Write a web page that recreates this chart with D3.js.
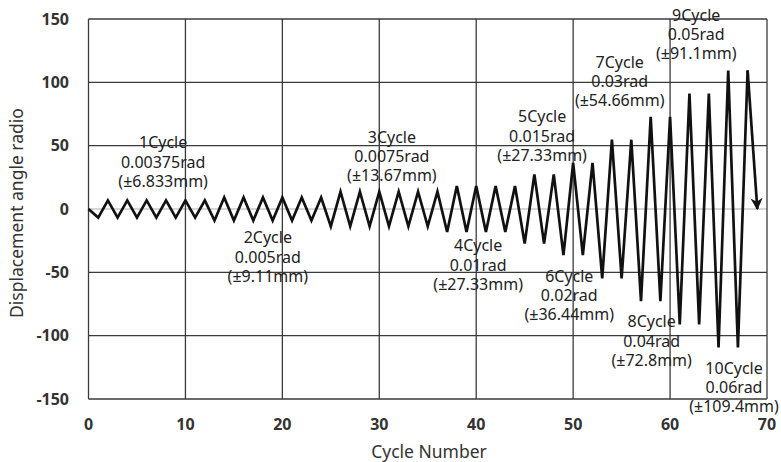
<!DOCTYPE html>
<html>
<head>
<meta charset="utf-8">
<script src="https://cdn.jsdelivr.net/npm/d3@7"></script>
<style>
  body { margin: 0; background: #fff; }
  svg { display: block; font-family: "Noto Sans", sans-serif; }
</style>
</head>
<body>
<svg></svg>
<script>
var width = 781;
var height = 462;

// loading protocol groups
var groupNames = ["1Cycle", "2Cycle", "3Cycle", "4Cycle", "5Cycle", "6Cycle", "7Cycle", "8Cycle", "9Cycle", "10Cycle"];
var groupRad = ["0.00375rad", "0.005rad", "0.0075rad", "0.01rad", "0.015rad", "0.02rad", "0.03rad", "0.04rad", "0.05rad", "0.06rad"];
var groupMm = ["(±6.833mm)", "(±9.11mm)", "(±13.67mm)", "(±27.33mm)", "(±27.33mm)", "(±36.44mm)", "(±54.66mm)", "(±72.8mm)", "(±91.1mm)", "(±109.4mm)"];
// label anchor: cycle number (x) and value (y) of the first line baseline
var labelX = [7.7, 18.5, 31.3, 40.2, 46.8, 49.6, 54.8, 58.1, 62.7, 66.6];
var labelY = [47.8, -27.2, 52.5, -33.4, 68.3, -57.4, 111.7, -93.5, 148.8, -129.9];

// peak amplitude of each of the 34 cycles
var amplitudes = [
  6.8, 6.8, 6.8, 6.8, 6.8, 6.8,
  9.1, 9.1, 9.1, 9.1, 9.1, 9.1,
  13.7, 13.7, 13.7, 13.7, 13.7, 13.7,
  18.2, 18.2, 18.2, 18.2,
  27.3, 27.3,
  36.4, 36.4,
  54.7, 54.7,
  72.8, 72.8,
  91.1, 91.1,
  109.4, 109.4
];

var xTicks = [0, 10, 20, 30, 40, 50, 60, 70];
var yTicks = [-150, -100, -50, 0, 50, 100, 150];

var svg = d3.select("svg").attr("width", width).attr("height", height);

var padding = { top: 19, right: 14, bottom: 63, left: 88.5 };

var xScale = d3
  .scaleLinear()
  .domain([0, 70])
  .range([padding.left, width - padding.right]);

var yScale = d3
  .scaleLinear()
  .domain([-150, 150])
  .range([height - padding.bottom, padding.top]);

// grid
svg
  .append("g")
  .selectAll("line")
  .data(yTicks)
  .enter()
  .append("line")
  .attr("x1", xScale(0))
  .attr("x2", xScale(70))
  .attr("y1", d => yScale(d))
  .attr("y2", d => yScale(d))
  .attr("stroke", d => (d === 0 ? "#c8c8c8" : "#3a3a3a"))
  .attr("stroke-width", d => (d === 0 ? 1.5 : 1.3));

svg
  .append("g")
  .selectAll("line")
  .data(xTicks)
  .enter()
  .append("line")
  .attr("x1", d => xScale(d))
  .attr("x2", d => xScale(d))
  .attr("y1", yScale(150))
  .attr("y2", yScale(-150))
  .attr("stroke", "#3a3a3a")
  .attr("stroke-width", 1.3);

// axes labels
svg
  .append("g")
  .selectAll("text")
  .data(yTicks)
  .enter()
  .append("text")
  .attr("x", 69)
  .attr("y", d => yScale(d) + 5.5)
  .attr("text-anchor", "end")
  .attr("font-size", 16)
  .attr("font-weight", "bold")
  .attr("fill", "#333")
  .text(d => d);

svg
  .append("g")
  .selectAll("text")
  .data(xTicks)
  .enter()
  .append("text")
  .attr("x", d => xScale(d))
  .attr("y", 430)
  .attr("text-anchor", "middle")
  .attr("font-size", 16)
  .attr("font-weight", "bold")
  .attr("fill", "#333")
  .text(d => d);

svg
  .append("text")
  .attr("x", 429)
  .attr("y", 458)
  .attr("text-anchor", "middle")
  .attr("font-size", 17.5)
  .attr("fill", "#333")
  .text("Cycle Number");

svg
  .append("text")
  .attr("transform", "translate(23," + 213 + ") rotate(-90)")
  .attr("text-anchor", "middle")
  .attr("font-size", 17.5)
  .attr("fill", "#333")
  .text("Displacement angle radio");

// zigzag history
var points = [[0, 0]];
amplitudes.forEach(function(a, i) {
  points.push([2 * i + 1, -a]);
  points.push([2 * i + 2, a]);
});

var line = d3
  .line()
  .x(d => xScale(d[0]))
  .y(d => yScale(d[1]));

svg
  .append("defs")
  .append("marker")
  .attr("id", "arrow")
  .attr("viewBox", "0 0 10 10")
  .attr("refX", 9)
  .attr("refY", 5)
  .attr("markerWidth", 4.5)
  .attr("markerHeight", 4.5)
  .attr("orient", "auto")
  .append("path")
  .attr("d", "M0,0 L10,5 L0,10 L3,5 z")
  .attr("fill", "#111");

svg
  .append("path")
  .datum(points)
  .attr("d", line)
  .attr("fill", "none")
  .attr("stroke", "#111")
  .attr("stroke-width", 2.7)
  .attr("stroke-linejoin", "miter");

var last = points[points.length - 1];
svg
  .append("path")
  .datum([last, [69, 0]])
  .attr("d", line)
  .attr("fill", "none")
  .attr("stroke", "#111")
  .attr("stroke-width", 2.7)
  .attr("marker-end", "url(#arrow)");

// group labels
var labels = svg
  .append("g")
  .selectAll("text")
  .data(groupNames)
  .enter()
  .append("text")
  .attr("text-anchor", "middle")
  .attr("font-size", 16)
  .attr("fill", "#222")
  .attr("x", (d, i) => xScale(labelX[i]))
  .attr("y", (d, i) => yScale(labelY[i]));

labels.append("tspan").text(d => d);
labels
  .append("tspan")
  .attr("x", (d, i) => xScale(labelX[i]))
  .attr("dy", 19.2)
  .text((d, i) => groupRad[i]);
labels
  .append("tspan")
  .attr("x", (d, i) => xScale(labelX[i]))
  .attr("dy", 19.2)
  .text((d, i) => groupMm[i]);
</script>
</body>
</html>
